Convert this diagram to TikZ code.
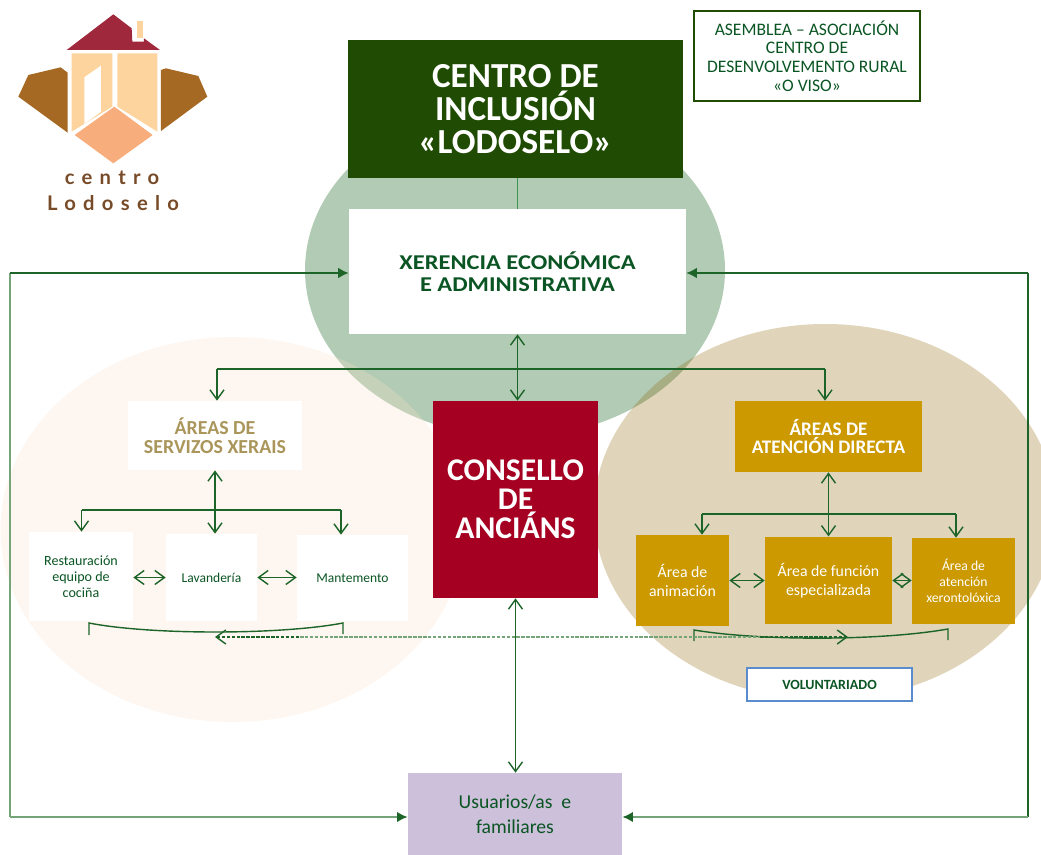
\documentclass[tikz,border=0pt]{standalone}
\usepackage{fontspec}
\setmainfont{Carlito}
\newfontfamily\logofont[LetterSpace=36]{Lato}
\newfontfamily\widefont[FakeStretch=1.16]{Carlito}
\usetikzlibrary{arrows.meta}

\definecolor{titlegreen}{RGB}{32,75,2}
\definecolor{linkgreen}{RGB}{28,100,40}
\definecolor{outergreen}{RGB}{115,165,120}
\definecolor{stemgreen}{RGB}{60,150,80}
\definecolor{xertext}{RGB}{10,85,35}
\definecolor{wine}{RGB}{165,0,33}
\definecolor{ochre}{RGB}{204,153,0}
\definecolor{sandtext}{RGB}{170,150,90}
\definecolor{lilac}{RGB}{204,192,218}
\definecolor{volblue}{RGB}{90,140,205}
\definecolor{roofred}{RGB}{160,40,60}
\definecolor{wallpeach}{RGB}{253,212,158}
\definecolor{floorpeach}{RGB}{248,174,124}
\definecolor{sidebrown}{RGB}{165,105,35}
\definecolor{logotext}{RGB}{120,75,40}

\tikzset{
  areabox/.style={align=center, inner sep=0pt},
  whitebox/.style={areabox, fill=white},
  ochrebox/.style={areabox, fill=ochre, text=white},
  link/.style={draw=linkgreen, line width=.8pt},
  outer/.style={draw=outergreen, line width=1.5pt, -{Latex[length=6pt,width=6pt,color=linkgreen]}},
  thinouter/.style={draw=linkgreen, line width=.8pt, -{Latex[length=6pt,width=6pt]}}
}

\begin{document}
\begin{tikzpicture}[x=.02cm, y=-.02cm, >={Straight Barb[length=5.5pt,width=8pt]}]
  \clip (0,0) rectangle (1041,855);
  % background ellipses
  \fill[fill={rgb,255:red,178;green,203;blue,180}] (515,270) ellipse [x radius=210, y radius=167];
  \fill[fill={rgb,255:red,250;green,225;blue,205}, opacity=.28] (232.5,529.5) ellipse [x radius=232, y radius=192.5];
  \fill[fill={rgb,255:red,140;green,96;blue,0}, opacity=.27] (825,512) ellipse [x radius=231, y radius=188];
  % logo
  \begin{scope}[scale=1/3]
    \fill[roofred] (200,150) -- (340,43) -- (395,85) -- (397,125) -- (432,125) -- (432,115) -- (480,150) -- cycle;
    \fill[wallpeach] (410,62) -- (428,62) -- (428,115) -- (410,115) -- cycle;
    \fill[wallpeach] (215,160) -- (337,160) -- (337,320) -- (215,395) -- cycle;
    \fill[wallpeach] (352,160) -- (472,160) -- (472,395) -- (352,320) -- cycle;
    \fill[white] (253,232) -- (303,197) -- (303,335) -- (253,372) -- cycle;
    \fill[floorpeach] (343,320) -- (458,405) -- (340,490) -- (224,405) -- cycle;
    \fill[sidebrown] (55,290) -- (85,225) -- (182,202) -- (203,218) -- (203,398) -- cycle;
    \fill[sidebrown] (483,210) -- (498,205) -- (595,228) -- (622,290) -- (483,393) -- cycle;
  \end{scope}
  \node[text=logotext] (logoa) at (112,178) {\logofont\bfseries\fontsize{11.5}{12}\selectfont centro};
  \node[text=logotext] (logob) at (113,203) {\logofont\bfseries\fontsize{11.5}{12}\selectfont Lodoselo};
  % main boxes
  \node[areabox, fill=titlegreen, text=white, minimum width=6.7cm, minimum height=2.76cm, font=\bfseries\fontsize{20}{19}\selectfont] (centro) at (515.5,109) {CENTRO DE\\INCLUSIÓN\\«LODOSELO»};
  \node[whitebox, text=xertext, minimum width=6.74cm, minimum height=2.5cm, font=\widefont\bfseries\fontsize{12}{12.4}\selectfont] (xerencia) at (517.5,271.5) {XERENCIA ECONÓMICA\\E ADMINISTRATIVA};
  \node[areabox, fill=wine, text=white, minimum width=3.3cm, minimum height=3.94cm, font=\bfseries\fontsize{18}{16.5}\selectfont] (consello) at (515.5,499.5) {CONSELLO\\DE\\ANCIÁNS};
  \node[whitebox, draw=titlegreen, line width=1.2pt, text=xertext, minimum width=4.52cm, minimum height=1.8cm, font=\fontsize{10}{10.7}\selectfont] (asemblea) at (807,56) {ASEMBLEA – ASOCIACIÓN\\CENTRO DE\\DESENVOLVEMENTO RURAL\\«O VISO»};
  \node[areabox, fill=lilac, text=xertext, minimum width=4.28cm, minimum height=1.64cm, font=\fontsize{11.2}{14}\selectfont] (usuarios) at (515,814) {Usuarios/as\ \ e\\familiares};
  % left areas
  \node[whitebox, text=sandtext, minimum width=3.48cm, minimum height=1.38cm, font=\bfseries\fontsize{11.3}{10.6}\selectfont] (servizos) at (215,435.5) {ÁREAS DE\\SERVIZOS XERAIS};
  \node[whitebox, text=xertext, minimum width=2.08cm, minimum height=1.78cm, font=\fontsize{8}{9.2}\selectfont] (restaura) at (81,576.5) {Restauración\\equipo de\\cociña};
  \node[whitebox, text=xertext, minimum width=1.82cm, minimum height=1.74cm, font=\fontsize{7.7}{9.2}\selectfont] (lavanderia) at (211.5,577.5) {Lavandería};
  \node[whitebox, text=xertext, minimum width=2.22cm, minimum height=1.72cm, font=\fontsize{7.7}{9.2}\selectfont] (mantemento) at (352.5,578) {Mantemento};
  % right areas
  \node[ochrebox, minimum width=3.74cm, minimum height=1.42cm, font=\bfseries\fontsize{10.9}{10.6}\selectfont] (atencion) at (828.5,436.5) {ÁREAS DE\\ATENCIÓN DIRECTA};
  \node[ochrebox, minimum width=1.86cm, minimum height=1.82cm, font=\fontsize{9}{10.8}\selectfont] (animacion) at (682.5,580.5) {Área de\\animación};
  \node[ochrebox, minimum width=2.54cm, minimum height=1.75cm, font=\fontsize{9}{10.8}\selectfont] (funcion) at (828.5,580.5) {Área de función\\especializada};
  \node[ochrebox, minimum width=2.06cm, minimum height=1.72cm, font=\fontsize{7.8}{9.2}\selectfont] (xeronto) at (963.5,581) {Área de\\atención\\xerontolóxica};
  \node[whitebox, draw=volblue, line width=1.2pt, text=xertext, minimum width=3.3cm, minimum height=.66cm, font=\bfseries\fontsize{8}{8}\selectfont] (volunt) at (829.5,684.5) {VOLUNTARIADO};
  % outer loop
  \coordinate (lefttop) at (10,273);
  \coordinate (leftbot) at (10,817);
  \coordinate (righttop) at (1028,273);
  \coordinate (rightbot) at (1028,817);
  \draw[outer, -] (lefttop) -- (leftbot);
  \draw[link] (righttop) -- (rightbot);
  \draw[thinouter] (lefttop) -- (lefttop -| xerencia.west);
  \draw[thinouter] (righttop) -- (righttop -| xerencia.east);
  \draw[outer] (leftbot) -- (leftbot -| usuarios.west);
  \draw[outer] (rightbot) -- (rightbot -| usuarios.east);
  % central links
  \draw[stemgreen, line width=.8pt] (centro.south -| xerencia.north) -- (xerencia.north);
  \draw[link, <->] (xerencia.south) -- (xerencia.south |- consello.north);
  \draw[link, <->] (consello.south) -- (consello.south |- usuarios.north);
  % first branch
  \coordinate (brleft) at (217,369);
  \coordinate (brright) at (825,369);
  \draw[link, ->] (brleft) -- (brleft |- servizos.north);
  \draw[link, ->] (brright) -- (brright |- atencion.north);
  \draw[link] (brleft) -- (brright);
  % left branch
  \coordinate (slt) at (81.5,510);
  \coordinate (srt) at (341,510);
  \draw[link, <->] (servizos.south) -- (servizos.south |- lavanderia.north);
  \draw[link, ->] (slt) -- (slt |- restaura.north);
  \draw[link, ->] (srt) -- (srt |- mantemento.north);
  \draw[link] (slt) -- (srt);
  \draw[link, <->] (lavanderia.west -| restaura.east) -- (lavanderia.west);
  \draw[link, <->] (lavanderia.east) -- (lavanderia.east -| mantemento.west);
  % right branch
  \coordinate (alt) at (702,514);
  \coordinate (art) at (956,514);
  \draw[link, <->] (atencion.south) -- (atencion.south |- funcion.north);
  \draw[link, ->] (alt) -- (alt |- animacion.north);
  \draw[link, ->] (art) -- (art |- xeronto.north);
  \draw[link] (alt) -- (art);
  \draw[link, <->] (funcion.west -| animacion.east) -- (funcion.west);
  \draw[link, <->] (funcion.east) -- (funcion.east -| xeronto.west);
  % brackets
  \coordinate (bla) at (89,623);
  \coordinate (blb) at (343,623);
  \coordinate (bra) at (694,630);
  \coordinate (brb) at (948,629);
  \draw[link] (89,635) -- (bla) .. controls (150,635) and (280,635) .. (blb) -- (343,634);
  \draw[link] (694,641) -- (bra) .. controls (760,641) and (880,641) .. (brb) -- (948,640);
  % dashed link, paler in its middle
  \coordinate (dasha) at (215,637);
  \coordinate (dashb) at (848,637);
  \coordinate (dashc) at (300,637);
  \coordinate (dashd) at (760,637);
  \draw[outergreen, line width=.8pt, dash pattern=on 2pt off .8pt] (dashc) -- (dashd);
  \draw[link, <-, dash pattern=on 2pt off .8pt] (dasha) -- (dashc);
  \draw[link, ->, dash pattern=on 2pt off .8pt] (dashd) -- (dashb);
\end{tikzpicture}
\end{document}
